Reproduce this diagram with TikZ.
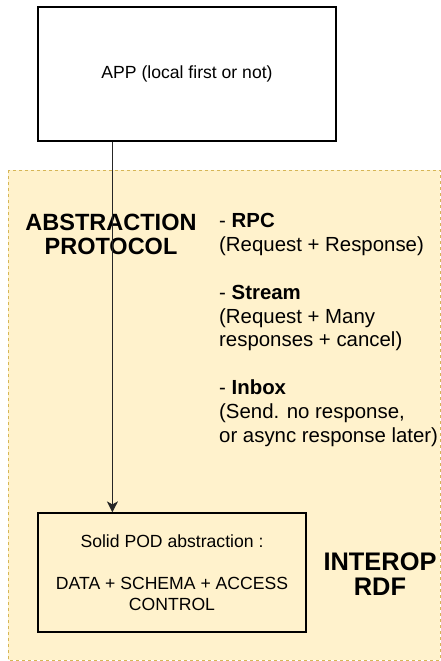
\documentclass[tikz,border=0pt]{standalone}
\usepackage{fontspec}
\setmainfont{Liberation Sans}
\usepackage{xcolor}
\usetikzlibrary{arrows.meta}
\usetikzlibrary{backgrounds}
\definecolor{notefill}{HTML}{FFF2CC}
\definecolor{notedraw}{HTML}{D6B656}
\newcommand{\picw}{441}
\newcommand{\pich}{661}
\newcommand{\boxfont}{\fontsize{17.6}{20.5}\selectfont}
\newcommand{\listfont}{\fontsize{20.4}{23.8}\selectfont}
\newcommand{\headfont}{\fontsize{23.5}{24}\selectfont\bfseries}
\newcommand{\interopfont}{\fontsize{25.4}{25}\selectfont\bfseries}
\newcommand{\tapx}{75pt}

\begin{document}
\begin{tikzpicture}[x=1pt,y=-1pt,
    box/.style={draw=black,line width=1.2pt,inner sep=0pt,align=center,
      font=\boxfont},
    flow/.style={draw=black!85,line width=1.1pt,
      -{Stealth[length=11pt,width=11pt,inset=3pt]}}]
    \useasboundingbox (0,0) rectangle (\picw,\pich);
    % app and pod boxes
    \node (app) [box, minimum width=298pt, minimum height=134pt]
      at (187,74) {APP (local first or not)};
    \node (pod) [box, minimum width=268pt, minimum height=119pt]
      at (172,572.5) {Solid POD abstraction :\\[21.5pt]
        DATA + SCHEMA + ACCESS\\CONTROL};
    % labels
    \node (head) [align=center, inner sep=0pt, font=\headfont] at (111,234)
      {ABSTRACTION\\PROTOCOL};
    \node (calls) [align=left, inner sep=0pt, anchor=west, font=\listfont]
      at (219,330)
      {- \textbf{RPC}\\(Request + Response)\\[23.8pt]
        - \textbf{Stream}\\(Request + Many\\responses + cancel)\\[23.8pt]
        - \textbf{Inbox}\\(Send. no response,\\or async response later)};
    \node (interop) [align=center, inner sep=0pt, font=\interopfont]
      at (380,574.5) {INTEROP\\RDF};
    % link
    \coordinate (tap) at ([xshift=\tapx]app.south west);
    \draw[flow] (tap) -- (tap |- pod.north);

    \begin{scope}[on background layer]
      % protocol layer
      \filldraw[fill=notefill, draw=notedraw, dashed, line width=1pt]
        (8,170) rectangle (440,660);
    \end{scope}
\end{tikzpicture}
\end{document}
